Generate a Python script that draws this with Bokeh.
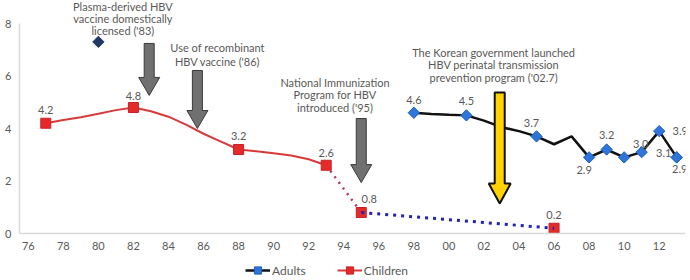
import math
from bokeh.plotting import figure
from bokeh.models import Range1d, FixedTicker, Legend, LegendItem, ColumnDataSource
from bokeh.core.properties import value
from bokeh.embed import file_html
from bokeh.resources import INLINE

FONT = "Lato"
GRAY_TXT = "#595959"

# ---- data ----
tick_years = list(range(1976, 2013, 2))
tick_labels = ["76", "78", "80", "82", "84", "86", "88", "90", "92", "94",
               "96", "98", "00", "02", "04", "06", "08", "10", "12"]

children_line_years = list(range(1977, 1994))
children_line_vals = [4.2, 4.32, 4.43, 4.56, 4.7, 4.8, 4.66, 4.45, 4.15, 3.8,
                      3.5, 3.2, 3.13, 3.06, 2.97, 2.83, 2.6]
children_years = [1977, 1982, 1988, 1993, 1995, 2006]
children_vals = [4.2, 4.8, 3.2, 2.6, 0.8, 0.2]
children_labels = ["4.2", "4.8", "3.2", "2.6", "0.8", "0.2"]

adult_line_years = list(range(1998, 2014))
adult_line_vals = [4.6, 4.55, 4.52, 4.5, 4.3, 4.05, 3.9, 3.7, 3.4, 3.7,
                   2.9, 3.2, 2.9, 3.1, 3.9, 2.9]
adult_years = [1998, 2001, 2005, 2008, 2009, 2010, 2011, 2012, 2013, 2013]
adult_vals = [4.6, 4.5, 3.7, 2.9, 3.2, 2.9, 3.1, 3.9, 2.9, 2.9]
adult_labels = ["4.6", "4.5", "3.7", "2.9", "3.2", "", "3.0", "3.9", "3.1", "2.9"]

plasma_year = [1980]
plasma_val = [7.3]

annotations = [
    (1981.4, [8.65, 8.18, 7.72], ["Plasma-derived HBV", "vaccine domestically", "licensed ('83)"]),
    (1986.8, [7.09, 6.55], ["Use of recombinant", "HBV vaccine ('86)"]),
    (1993.5, [5.75, 5.29, 4.80], ["National Immunization", "Program for HBV", "introduced ('95)"]),
    (2002.55, [6.90, 6.44, 5.94], ["The Korean government launched", "HBV perinatal transmission",
                                   "prevention program ('02.7)"]),
]

# ---- figure ----
X0, X1 = 1975.5, 2013.5
YPX = 26.25                      # pixels per unit on the value axis
Y1 = 233 / YPX
Y0 = -(280 - 233) / YPX
p = figure(width=690, height=280, output_backend="svg", toolbar_location=None,
           x_range=Range1d(X0, X1), y_range=Range1d(Y0, Y1),
           min_border_left=19, min_border_right=5, min_border_top=0, min_border_bottom=0)
p.outline_line_color = None
p.background_fill_color = "white"
p.xgrid.visible = False
p.ygrid.visible = False

for ax in (p.xaxis[0], p.yaxis[0]):
    ax.axis_line_color = "#D9D9D9"
    ax.axis_line_width = 1.5
    ax.major_tick_line_color = None
    ax.minor_tick_line_color = None
    ax.major_tick_out = 0
    ax.major_tick_in = 0
    ax.minor_tick_out = 0
    ax.major_label_text_font = FONT
    ax.major_label_text_font_size = "11px"
    ax.major_label_text_color = GRAY_TXT
p.xaxis.ticker = FixedTicker(ticks=tick_years)
p.xaxis.major_label_overrides = {y: l for y, l in zip(tick_years, tick_labels)}
p.xaxis.major_label_standoff = 8
p.xaxis.fixed_location = 0
p.yaxis.ticker = FixedTicker(ticks=[0, 2, 4, 6, 8])
p.yaxis.bounds = (0, 8)
p.yaxis.major_label_standoff = 8

XPX = (685 - 19) / (X1 - X0)

# ---- series ----
red_line = p.line(children_line_years, children_line_vals, line_color="#D83A3A", line_width=2)
p.line(children_years[3:5], children_vals[3:5], line_color="#B03A55", line_width=2.5, line_dash="2 5")
red_mk = p.scatter(children_years, children_vals, marker="square", size=10,
                   fill_color="#E52A2A", line_color="#C82028")

blk_line = p.line(adult_line_years, adult_line_vals, line_color="#111111", line_width=2.5)
blue_mk = p.scatter(adult_years, adult_vals, marker="square", angle=math.pi / 4, size=8,
                    fill_color="#2F74D8", line_color="#1E5FC0")
p.line(children_years[4:6], children_vals[4:6], line_color="#2222BB", line_width=3, line_dash="3 5")

p.scatter(plasma_year, plasma_val, marker="square", angle=math.pi / 4, size=8,
          fill_color="#1F3864", line_color="#1F3864")

# ---- arrows ----
def arrow(xc, ytop, ytip, fill, line, lw, shaft_px=10, head_w_px=21, head_h_px=18):
    sw = shaft_px / 2 / XPX
    hw = head_w_px / 2 / XPX
    yb = ytip + head_h_px / YPX
    xs = [xc - sw, xc + sw, xc + sw, xc + hw, xc, xc - hw, xc - sw]
    ys = [ytop, ytop, yb, yb, ytip, yb, yb]
    p.patch(xs, ys, fill_color=fill, line_color=line, line_width=lw)

arrow(1982.9, 7.24, 5.26, "#707070", "#3A3A3A", 1)
arrow(1985.65, 6.21, 4.0, "#707070", "#3A3A3A", 1)
arrow(1995.0, 4.38, 1.94, "#707070", "#3A3A3A", 1)
arrow(2002.9, 5.37, 1.14, "#FFD200", "#111111", 2, shaft_px=10, head_w_px=22, head_h_px=20)

# ---- annotation texts ----
for xc, ys, lines in annotations:
    p.text([xc] * len(lines), ys, text=lines, text_font=value(FONT), text_font_size="11px",
           text_color=GRAY_TXT, text_align="center", text_baseline="middle")

# ---- data labels ----
c_src = ColumnDataSource(dict(x=children_years, y=children_vals, t=children_labels,
                              xo=[0, 0, 0, 0, 8, 0], yo=[-13, -12, -14, -12, -14, -13]))
p.text("x", "y", text="t", source=c_src, x_offset="xo", y_offset="yo",
       text_font=value(FONT), text_font_size="11px", text_color=GRAY_TXT,
       text_align="center", text_baseline="middle")
a_src = ColumnDataSource(dict(x=adult_years, y=adult_vals, t=adult_labels,
                              xo=[0, 0, -5, -5, 0, 0, -1, 21, -13, 3],
                              yo=[-13, -14, -13, 13, -15, 0, -8, 0, -4, 12]))
p.text("x", "y", text="t", source=a_src, x_offset="xo", y_offset="yo",
       text_font=value(FONT), text_font_size="11px", text_color=GRAY_TXT,
       text_align="center", text_baseline="middle")

# ---- legend ----
legend = Legend(items=[LegendItem(label="Adults", renderers=[blk_line, blue_mk]),
                       LegendItem(label="Children", renderers=[red_line, red_mk])],
                orientation="horizontal", location=(226, 1),
                glyph_width=25, glyph_height=18, label_standoff=2, spacing=31,
                padding=0, margin=0, border_line_color=None, background_fill_alpha=0,
                label_text_font=FONT, label_text_font_size="12px", label_text_color=GRAY_TXT)
p.add_layout(legend, "center")

open("out.html", "w").write(file_html(p, INLINE))
